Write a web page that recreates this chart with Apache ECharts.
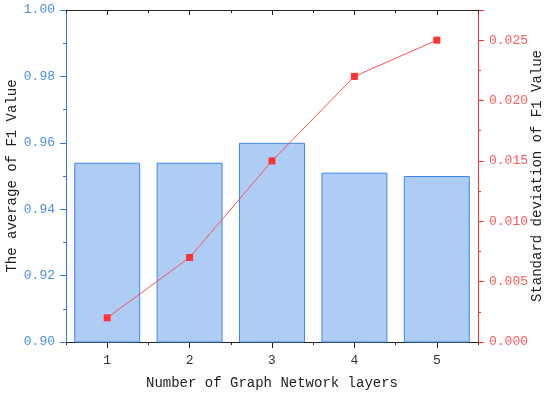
<!DOCTYPE html>
<html><head><meta charset="utf-8">
<script src="https://cdn.jsdelivr.net/npm/echarts@6/dist/echarts.min.js"></script>
<style>html,body{margin:0;padding:0;background:#fff}#c{width:550px;height:396px}</style>
</head><body><div id="c"></div>
<script>
var categories = ['1', '2', '3', '4', '5'];
var avgF1 = [0.954, 0.954, 0.960, 0.951, 0.950];
var stdF1 = [0.002, 0.007, 0.015, 0.022, 0.025];
var xName = 'Number of Graph Network layers';
var leftName = 'The average of F1 Value';
var rightName = 'Standard deviation of F1 Value';

var FONT = 'Liberation Mono';
var chart = echarts.init(document.getElementById('c'));
function catAxis(pos, align, len, inside, showLabel, name) {
  return {
    type: 'category', data: categories, position: pos, gridIndex: 0,
    boundaryGap: true,
    name: name || '', nameLocation: 'middle', nameGap: 34, nameMoveOverlap: false,
    nameTextStyle: {fontFamily: FONT, fontSize: 14, color: '#222'},
    axisLine: {show: true, lineStyle: {color: '#222', width: 1}},
    axisTick: {show: true, alignWithLabel: align, length: len, inside: inside, lineStyle: {color: '#222'}},
    axisLabel: {show: showLabel, fontFamily: FONT, fontSize: 13, color: '#333', margin: 12},
    splitLine: {show: false}
  };
}
chart.setOption({
  animation: false,
  grid: {left: 66, right: 72, top: 10, bottom: 54, containLabel: false, outerBoundsMode: 'none'},
  xAxis: [
    catAxis('bottom', true, 6, false, true, xName),
    catAxis('bottom', false, 3, false, false),
    catAxis('top', true, 5, true, false),
    catAxis('top', false, 3, true, false)
  ],
  yAxis: [
    {
      type: 'value', min: 0.9, max: 1.0, interval: 0.02, position: 'left',
      name: leftName, nameLocation: 'middle', nameGap: 47, nameMoveOverlap: false,
      nameTextStyle: {fontFamily: FONT, fontSize: 14, color: '#222'},
      axisLine: {show: true, lineStyle: {color: '#2b7bef', width: 1}},
      axisTick: {show: true, length: 6, lineStyle: {color: '#2b7bef'}},
      minorTick: {show: true, splitNumber: 2, length: 3, lineStyle: {color: '#2b7bef'}},
      axisLabel: {fontFamily: FONT, fontSize: 13, color: '#4a90e8', margin: 11,
        formatter: function (v) { return v.toFixed(2); }},
      splitLine: {show: false}
    },
    {
      type: 'value', min: 0, max: 0.0275, interval: 0.005, position: 'right',
      name: rightName, nameLocation: 'middle', nameGap: 52, nameMoveOverlap: false,
      nameTextStyle: {fontFamily: FONT, fontSize: 14, color: '#222'},
      axisLine: {show: true, lineStyle: {color: '#ff3030', width: 1}},
      axisTick: {show: true, length: 6, lineStyle: {color: '#ff3030'}},
      minorTick: {show: true, splitNumber: 2, length: 3, lineStyle: {color: '#ff3030'}},
      axisLabel: {fontFamily: FONT, fontSize: 13, color: '#ff5a5a', margin: 11, showMaxLabel: false,
        formatter: function (v) { return v.toFixed(3); }},
      splitLine: {show: false}
    }
  ],
  series: [
    {
      type: 'bar', data: avgF1, xAxisIndex: 0, yAxisIndex: 0, barWidth: '80%',
      itemStyle: {color: '#aecdf5', borderColor: '#3d86ec', borderWidth: 1}
    },
    {
      type: 'line', data: stdF1, xAxisIndex: 0, yAxisIndex: 1,
      symbol: 'rect', symbolSize: 7,
      lineStyle: {color: '#ff5050', width: 1},
      itemStyle: {color: '#ff3333'}
    }
  ]
});
</script></body></html>
